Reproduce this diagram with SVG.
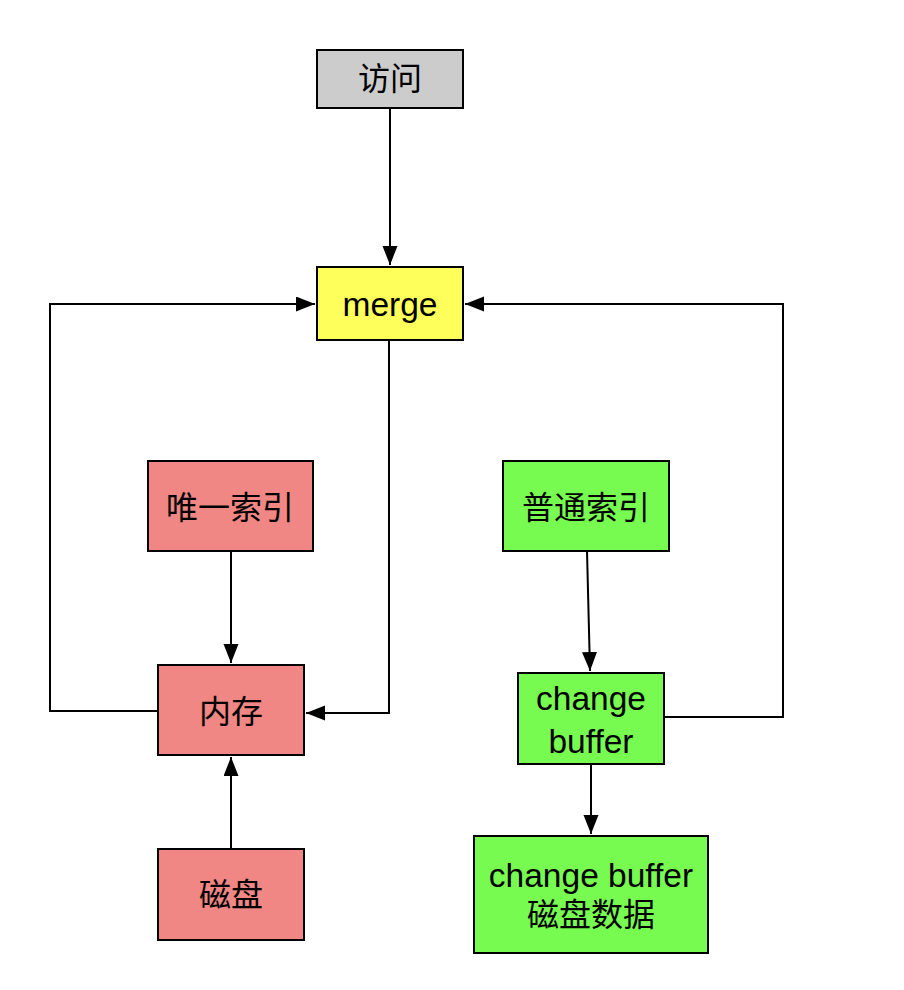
<svg xmlns="http://www.w3.org/2000/svg" width="904" height="990" viewBox="0 0 904 990">
<defs>
<style>
.box{stroke:#000;stroke-width:2}
.t{font-family:"Liberation Sans","Noto Sans CJK SC",sans-serif;font-size:32px;fill:#000;text-anchor:middle;dominant-baseline:central}
.l{font-size:33.5px}
.c{fill:none;stroke:#000;stroke-width:2}
.red{fill:#f08784}
.green{fill:#77fb51}
</style>
<marker id="ah" markerUnits="userSpaceOnUse" markerWidth="22" markerHeight="16" refX="19" refY="7.5" orient="auto">
<path d="M0,0 L19,7.5 L0,15 z" fill="#000"/>
</marker>
</defs>
<rect width="904" height="990" fill="#fff"/>
<g id="connectors">
<path class="c" d="M390,108 V265" marker-end="url(#ah)"/>
<path class="c" d="M158,711 H50 V304 H315" marker-end="url(#ah)"/>
<path class="c" d="M389,340 V713 H306" marker-end="url(#ah)"/>
<path class="c" d="M231,551 V663" marker-end="url(#ah)"/>
<path class="c" d="M231,849 V757" marker-end="url(#ah)"/>
<path class="c" d="M587,551 L590,671" marker-end="url(#ah)"/>
<path class="c" d="M664,717 H783 V304 H465" marker-end="url(#ah)"/>
<path class="c" d="M591,764 V834" marker-end="url(#ah)"/>
</g>
<g id="n-fangwen"><rect class="box" x="317" y="50" width="146" height="58" fill="#cccccc"/><text class="t" x="390" y="79">访问</text></g>
<g id="n-merge"><rect class="box" x="317" y="267" width="146" height="73" fill="#ffff5c"/><text class="t l" x="390" y="304">merge</text></g>
<g id="n-weiyi"><rect class="box red" x="148" y="461" width="165" height="90"/><text class="t" x="230" y="508">唯一索引</text></g>
<g id="n-neicun"><rect class="box red" x="158" y="665" width="146" height="90"/><text class="t" x="231" y="712">内存</text></g>
<g id="n-cipan"><rect class="box red" x="158" y="849" width="146" height="91"/><text class="t" x="231" y="895">磁盘</text></g>
<g id="n-putong"><rect class="box green" x="503" y="461" width="166" height="90"/><text class="t" x="586" y="508">普通索引</text></g>
<g id="n-cb"><rect class="box green" x="518" y="673" width="146" height="91"/><text class="t l" x="591" y="698">change</text><text class="t l" x="591" y="741">buffer</text></g>
<g id="n-cbdisk"><rect class="box green" x="474" y="836" width="234" height="117"/><text class="t l" x="591" y="875">change buffer</text><text class="t" x="591" y="915">磁盘数据</text></g>
</svg>
